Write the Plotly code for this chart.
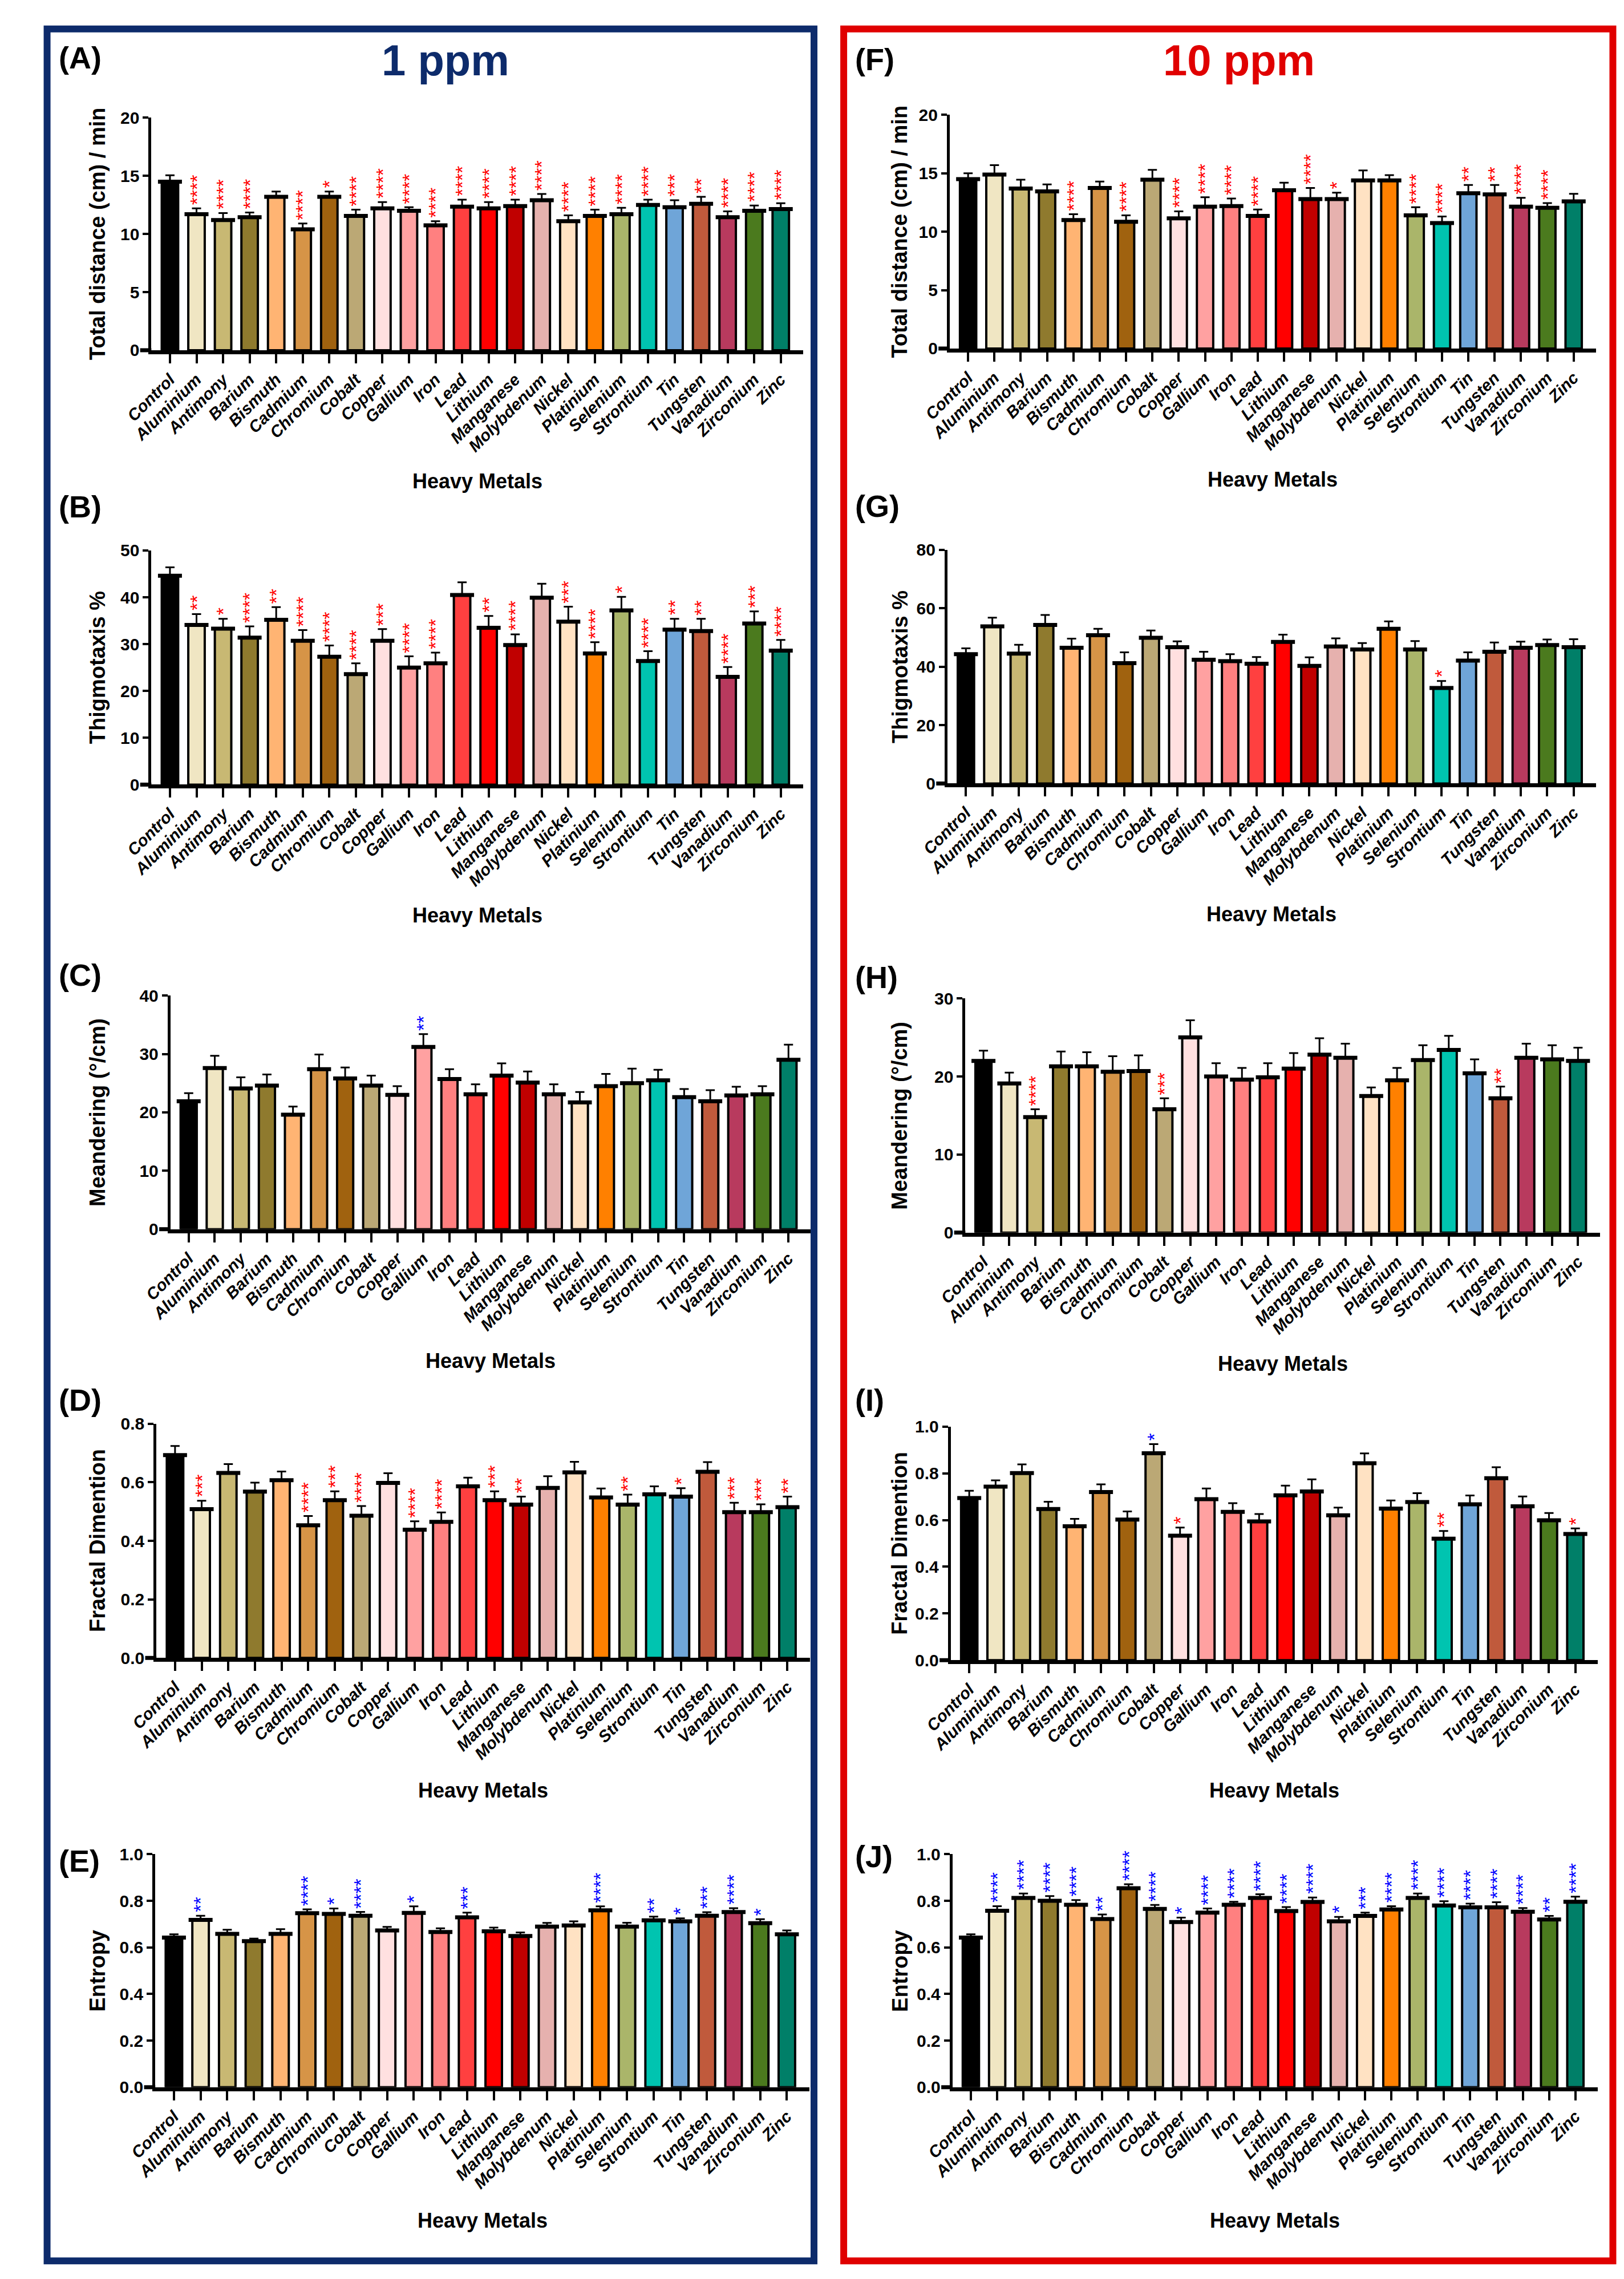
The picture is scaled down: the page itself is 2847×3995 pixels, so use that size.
import plotly.graph_objects as go

W, H = 2847, 3995

metals = ["Control", "Aluminium", "Antimony", "Barium", "Bismuth", "Cadmium",
          "Chromium", "Cobalt", "Copper", "Gallium", "Iron", "Lead", "Lithium",
          "Manganese", "Molybdenum", "Nickel", "Platinium", "Selenium",
          "Strontium", "Tin", "Tungsten", "Vanadium", "Zirconium", "Zinc"]

bar_colors = ["#000000", "#F0E6C3", "#C8B873", "#8F7A2E", "#FFB473", "#D69447",
              "#A0620F", "#BBA875", "#FFE0E0", "#FFA1A1", "#FF8080", "#FF4040",
              "#FF0000", "#C00000", "#E6B1AE", "#FFE2C3", "#FF8000", "#AAB56A",
              "#00C4B0", "#6FA5D8", "#C05A3C", "#B83A5E", "#4B7A1E", "#007F68"]

# ---- 1 ppm ----
dist_1 = [14.5, 11.7, 11.2, 11.45, 13.2, 10.4, 13.2, 11.55, 12.2, 12.0, 10.75, 12.35,
          12.2, 12.4, 12.9, 11.1, 11.55, 11.7, 12.5, 12.3, 12.6, 11.45, 12.0, 12.15]
dist_1_err = [0.55, 0.5, 0.6, 0.4, 0.45, 0.5, 0.45, 0.55, 0.55, 0.3, 0.35, 0.6,
              0.55, 0.55, 0.55, 0.5, 0.55, 0.55, 0.45, 0.6, 0.6, 0.5, 0.45, 0.5]
dist_1_sig = ["", "****", "****", "****", "", "****", "*", "****", "****", "****", "****", "****",
              "****", "****", "****", "****", "****", "****", "****", "***", "**", "****", "****", "****"]

thig_1 = [44.6, 34.1, 33.3, 31.4, 35.2, 30.7, 27.3, 23.6, 30.7, 25.0, 25.9, 40.5,
          33.5, 29.8, 39.9, 34.8, 28.0, 37.2, 26.4, 33.1, 32.8, 23.0, 34.4, 28.6]
thig_1_err = [1.8, 2.3, 2.1, 2.4, 2.7, 2.3, 2.4, 2.3, 2.5, 2.4, 2.3, 2.7,
              2.5, 2.3, 3.0, 3.2, 2.4, 2.9, 2.1, 2.3, 2.6, 2.1, 2.6, 2.3]
thig_1_sig = ["", "**", "*", "****", "**", "****", "****", "****", "***", "****", "****", "",
              "**", "****", "", "***", "****", "*", "****", "**", "**", "****", "***", "****"]

mean_1 = [21.9, 27.6, 24.1, 24.6, 19.6, 27.4, 25.8, 24.6, 23.0, 31.2, 25.7, 23.1,
          26.3, 25.1, 23.1, 21.7, 24.5, 25.0, 25.5, 22.6, 21.9, 22.9, 23.1, 29.0]
mean_1_err = [1.4, 2.1, 1.9, 1.9, 1.4, 2.5, 1.9, 1.7, 1.5, 2.2, 1.7, 1.7,
              2.1, 1.9, 1.7, 1.8, 2.1, 2.5, 1.8, 1.4, 1.9, 1.5, 1.4, 2.6]
mean_1_sig = ["", "", "", "", "", "", "", "", "", "**", "", "",
              "", "", "", "", "", "", "", "", "", "", "", ""]

frac_1 = [0.693, 0.508, 0.632, 0.568, 0.607, 0.453, 0.539, 0.486, 0.598, 0.438, 0.465, 0.586,
          0.539, 0.524, 0.581, 0.634, 0.548, 0.524, 0.559, 0.551, 0.636, 0.498, 0.498, 0.515]
frac_1_err = [0.031, 0.029, 0.030, 0.031, 0.030, 0.032, 0.030, 0.033, 0.033, 0.029, 0.032, 0.030,
              0.030, 0.027, 0.040, 0.036, 0.031, 0.034, 0.027, 0.029, 0.033, 0.032, 0.027, 0.036]
frac_1_sig = ["", "***", "", "", "", "****", "***", "****", "", "****", "****", "",
              "***", "**", "", "", "", "**", "", "*", "", "***", "***", "**"]

entr_1 = [0.642, 0.718, 0.658, 0.627, 0.658, 0.747, 0.744, 0.736, 0.673, 0.748, 0.666, 0.729,
          0.669, 0.649, 0.689, 0.694, 0.759, 0.689, 0.716, 0.712, 0.736, 0.752, 0.704, 0.656]
entr_1_err = [0.014, 0.018, 0.018, 0.011, 0.020, 0.016, 0.023, 0.016, 0.015, 0.028, 0.016, 0.020,
              0.016, 0.015, 0.016, 0.018, 0.017, 0.017, 0.016, 0.013, 0.015, 0.016, 0.017, 0.017]
entr_1_sig = ["", "**", "", "", "", "****", "*", "****", "", "*", "", "***",
              "", "", "", "", "****", "", "**", "*", "***", "****", "*", ""]

# ---- 10 ppm ----
dist_10 = [14.5, 14.9, 13.7, 13.45, 11.0, 13.75, 10.85, 14.45, 11.15, 12.15, 12.2, 11.35,
           13.55, 12.8, 12.8, 14.4, 14.4, 11.4, 10.75, 13.3, 13.2, 12.15, 12.05, 12.6]
dist_10_err = [0.5, 0.8, 0.75, 0.6, 0.5, 0.55, 0.55, 0.85, 0.6, 0.8, 0.65, 0.55,
               0.65, 0.95, 0.55, 0.85, 0.45, 0.7, 0.55, 0.7, 0.8, 0.75, 0.4, 0.65]
dist_10_sig = ["", "", "", "", "****", "", "****", "", "****", "****", "****", "****",
               "", "****", "*", "", "", "****", "****", "**", "**", "****", "****", ""]

thig_10 = [44.3, 53.8, 44.5, 54.3, 46.5, 50.8, 41.2, 49.9, 46.7, 42.4, 41.9, 41.0,
           48.5, 40.3, 46.9, 45.9, 53.0, 45.9, 32.7, 42.1, 45.1, 46.5, 47.4, 46.7]
thig_10_err = [2.0, 3.0, 3.0, 3.4, 3.1, 2.2, 3.7, 2.5, 2.0, 2.7, 2.4, 2.3,
               2.5, 2.9, 2.8, 2.2, 2.5, 2.9, 2.4, 2.8, 3.2, 2.1, 1.9, 2.7]
thig_10_sig = ["", "", "", "", "", "", "", "", "", "", "", "",
               "", "", "", "", "", "", "*", "", "", "", "", ""]

mean_10 = [22.0, 19.1, 14.8, 21.3, 21.3, 20.6, 20.7, 15.8, 25.0, 20.0, 19.6, 19.9,
           21.0, 22.8, 22.4, 17.5, 19.5, 22.1, 23.4, 20.4, 17.2, 22.4, 22.2, 22.0]
mean_10_err = [1.3, 1.4, 1.0, 1.9, 1.8, 2.0, 2.0, 1.4, 2.2, 1.7, 1.5, 1.8,
               2.0, 2.1, 1.8, 1.1, 1.6, 1.9, 1.8, 1.8, 1.5, 1.8, 1.8, 1.7]
mean_10_sig = ["", "", "****", "", "", "", "", "***", "", "", "", "",
               "", "", "", "", "", "", "", "", "**", "", "", ""]

frac_10 = [0.694, 0.743, 0.801, 0.647, 0.573, 0.720, 0.602, 0.886, 0.533, 0.689, 0.635, 0.594,
           0.706, 0.722, 0.620, 0.843, 0.649, 0.677, 0.520, 0.667, 0.779, 0.659, 0.599, 0.540]
frac_10_err = [0.031, 0.027, 0.037, 0.031, 0.032, 0.033, 0.035, 0.039, 0.035, 0.046, 0.037, 0.032,
               0.041, 0.052, 0.033, 0.042, 0.035, 0.038, 0.033, 0.038, 0.047, 0.042, 0.031, 0.024]
frac_10_sig = ["", "", "", "", "", "", "", "*", "*", "", "", "",
               "", "", "", "", "", "", "**", "", "", "", "", "*"]

entr_10 = [0.642, 0.757, 0.812, 0.800, 0.783, 0.722, 0.854, 0.765, 0.709, 0.749, 0.783, 0.812,
           0.756, 0.795, 0.712, 0.735, 0.763, 0.812, 0.780, 0.772, 0.772, 0.753, 0.720, 0.796]
entr_10_err = [0.014, 0.020, 0.019, 0.020, 0.020, 0.019, 0.017, 0.017, 0.019, 0.018, 0.013, 0.016,
               0.017, 0.019, 0.019, 0.014, 0.014, 0.019, 0.018, 0.016, 0.022, 0.016, 0.015, 0.022]
entr_10_sig = ["", "****", "****", "****", "****", "**", "****", "****", "*", "****", "****", "****",
               "****", "****", "*", "***", "****", "****", "****", "****", "****", "****", "**", "****"]

y_titles = ["Total distance (cm) / min", "Thigmotaxis %", "Meandering (\u00b0/cm)",
            "Fractal Dimention", "Entropy"]

NAVY = "#0D2B6B"
RED = "#E00000"
FONT = "Liberation Sans, Arial, sans-serif"

# letter, values, errors, stars, y title, y ticks, tick format,
# plot box in px (left, right, top, bottom), letter y px, x-title y px
panels = [
    ("(A)", dist_1, dist_1_err, dist_1_sig, y_titles[0], [0, 5, 10, 15, 20], "", (212, 1375, 183, 594), 77, 826),
    ("(B)", thig_1, thig_1_err, thig_1_sig, y_titles[1], [0, 10, 20, 30, 40, 50], "", (212, 1375, 948, 1362), 870, 1593),
    ("(C)", mean_1, mean_1_err, mean_1_sig, y_titles[2], [0, 10, 20, 30, 40], "", (246, 1388, 1735, 2148), 1698, 2381),
    ("(D)", frac_1, frac_1_err, frac_1_sig, y_titles[3], [0, 0.2, 0.4, 0.6, 0.8], ".1f", (221, 1387, 2492, 2906), 2450, 3140),
    ("(E)", entr_1, entr_1_err, entr_1_sig, y_titles[4], [0, 0.2, 0.4, 0.6, 0.8, 1.0], ".1f", (219, 1386, 3253, 3665), 3265, 3901),
    ("(F)", dist_10, dist_10_err, dist_10_sig, y_titles[0], [0, 5, 10, 15, 20], "", (1636, 2789, 178, 591), 80, 823),
    ("(G)", thig_10, thig_10_err, thig_10_sig, y_titles[1], [0, 20, 40, 60, 80], "", (1632, 2789, 947, 1360), 869, 1591),
    ("(H)", mean_10, mean_10_err, mean_10_sig, y_titles[2], [0, 10, 20, 30], "", (1664, 2796, 1740, 2154), 1702, 2386),
    ("(I)", frac_10, frac_10_err, frac_10_sig, y_titles[3], [0, 0.2, 0.4, 0.6, 0.8, 1.0], ".1f", (1638, 2792, 2497, 2910), 2450, 3140),
    ("(J)", entr_10, entr_10_err, entr_10_sig, y_titles[4], [0, 0.2, 0.4, 0.6, 0.8, 1.0], ".1f", (1641, 2792, 3253, 3665), 3257, 3901),
]


def fx(px):
    return px / W


def fy(py):
    return 1 - py / H


fig = go.Figure()
annotations = []
shapes = []
layout = {}

for i, (letter, vals, errs, sig, ytitle, yticks, tfmt, box, letter_y, xt_y) in enumerate(panels):
    n = "" if i == 0 else str(i + 1)
    xa, ya = "x" + n, "y" + n
    left, right, top, bottom = box

    fig.add_trace(go.Bar(
        x=metals, y=vals, xaxis=xa, yaxis=ya, width=0.62,
        marker=dict(color=bar_colors, line=dict(color="black", width=4)),
        error_y=dict(type="data", array=errs, arrayminus=[0] * len(errs), symmetric=False,
                     color="black", thickness=3, width=8),
        showlegend=False, hoverinfo="skip"))
    # thick top edge of each bar
    fig.add_trace(go.Scatter(
        x=metals, y=vals, xaxis=xa, yaxis=ya, mode="markers",
        marker=dict(symbol="line-ew", size=30, line=dict(color="black", width=7)),
        showlegend=False, hoverinfo="skip", cliponaxis=False))

    layout["xaxis" + n] = dict(
        domain=[fx(left), fx(right)], anchor=ya, type="category",
        range=[-0.7, 23.85], showline=True, linewidth=7, linecolor="black",
        ticks="outside", ticklen=16, tickwidth=4, tickcolor="black",
        tickangle=-45, showgrid=False, zeroline=False,
        tickfont=dict(family=FONT, size=29, color="black", weight="bold", style="italic"))
    layout["yaxis" + n] = dict(
        domain=[fy(bottom), fy(top)], anchor=xa, range=[0, yticks[-1]],
        tickvals=yticks, tickformat=tfmt, showline=True, linewidth=5, linecolor="black",
        ticks="outside", ticklen=10, tickwidth=4, tickcolor="black",
        showgrid=False, zeroline=False,
        tickfont=dict(family=FONT, size=30, color="black", weight="bold"))

    # base line runs a little to the left of the y axis
    shapes.append(dict(type="line", xref="paper", yref="paper",
                       x0=fx(left - 20), x1=fx(left), y0=fy(bottom), y1=fy(bottom),
                       line=dict(color="black", width=7)))

    # significance stars
    for m, v, e, s in zip(metals, vals, errs, sig):
        if s:
            annotations.append(dict(
                x=m, y=v + e, xref=xa, yref=ya, text=s, showarrow=False,
                textangle=-90, xanchor="center", yanchor="bottom", yshift=4,
                font=dict(family=FONT, size=34, color="#0000FF" if v > vals[0] else "#FF0000")))

    col_left = i < 5
    annotations.append(dict(
        x=fx(45 if col_left else 1465), y=fy(letter_y), xref="paper", yref="paper",
        text=letter, showarrow=False, xanchor="left", yanchor="middle",
        font=dict(family=FONT, size=54, color="black", weight="bold")))
    annotations.append(dict(
        x=fx(116 if col_left else 1547), y=fy((top + bottom) / 2), xref="paper", yref="paper",
        text=ytitle, showarrow=False, textangle=-90, xanchor="center", yanchor="middle",
        font=dict(family=FONT, size=38, color="black", weight="bold")))
    annotations.append(dict(
        x=fx((left + right) / 2), y=fy(xt_y), xref="paper", yref="paper",
        text="Heavy Metals", showarrow=False, xanchor="center", yanchor="middle",
        font=dict(family=FONT, size=36, color="black", weight="bold")))

annotations.append(dict(x=fx(737), y=fy(81), xref="paper", yref="paper", text="1 ppm",
                        showarrow=False, xanchor="center", yanchor="middle",
                        font=dict(family=FONT, size=76, color=NAVY, weight="bold")))
annotations.append(dict(x=fx(2152), y=fy(81), xref="paper", yref="paper", text="10 ppm",
                        showarrow=False, xanchor="center", yanchor="middle",
                        font=dict(family=FONT, size=76, color=RED, weight="bold")))

shapes.append(dict(type="rect", xref="paper", yref="paper", x0=fx(26), x1=fx(1394),
                   y0=fy(3972), y1=fy(26), line=dict(color=NAVY, width=12)))
shapes.append(dict(type="rect", xref="paper", yref="paper", x0=fx(1447), x1=fx(2819),
                   y0=fy(3972), y1=fy(26), line=dict(color=RED, width=12)))

fig.update_layout(
    width=W, height=H, margin=dict(l=0, r=0, t=0, b=0),
    paper_bgcolor="white", plot_bgcolor="white",
    annotations=annotations, shapes=shapes, **layout)

fig.write_html("out.html")
